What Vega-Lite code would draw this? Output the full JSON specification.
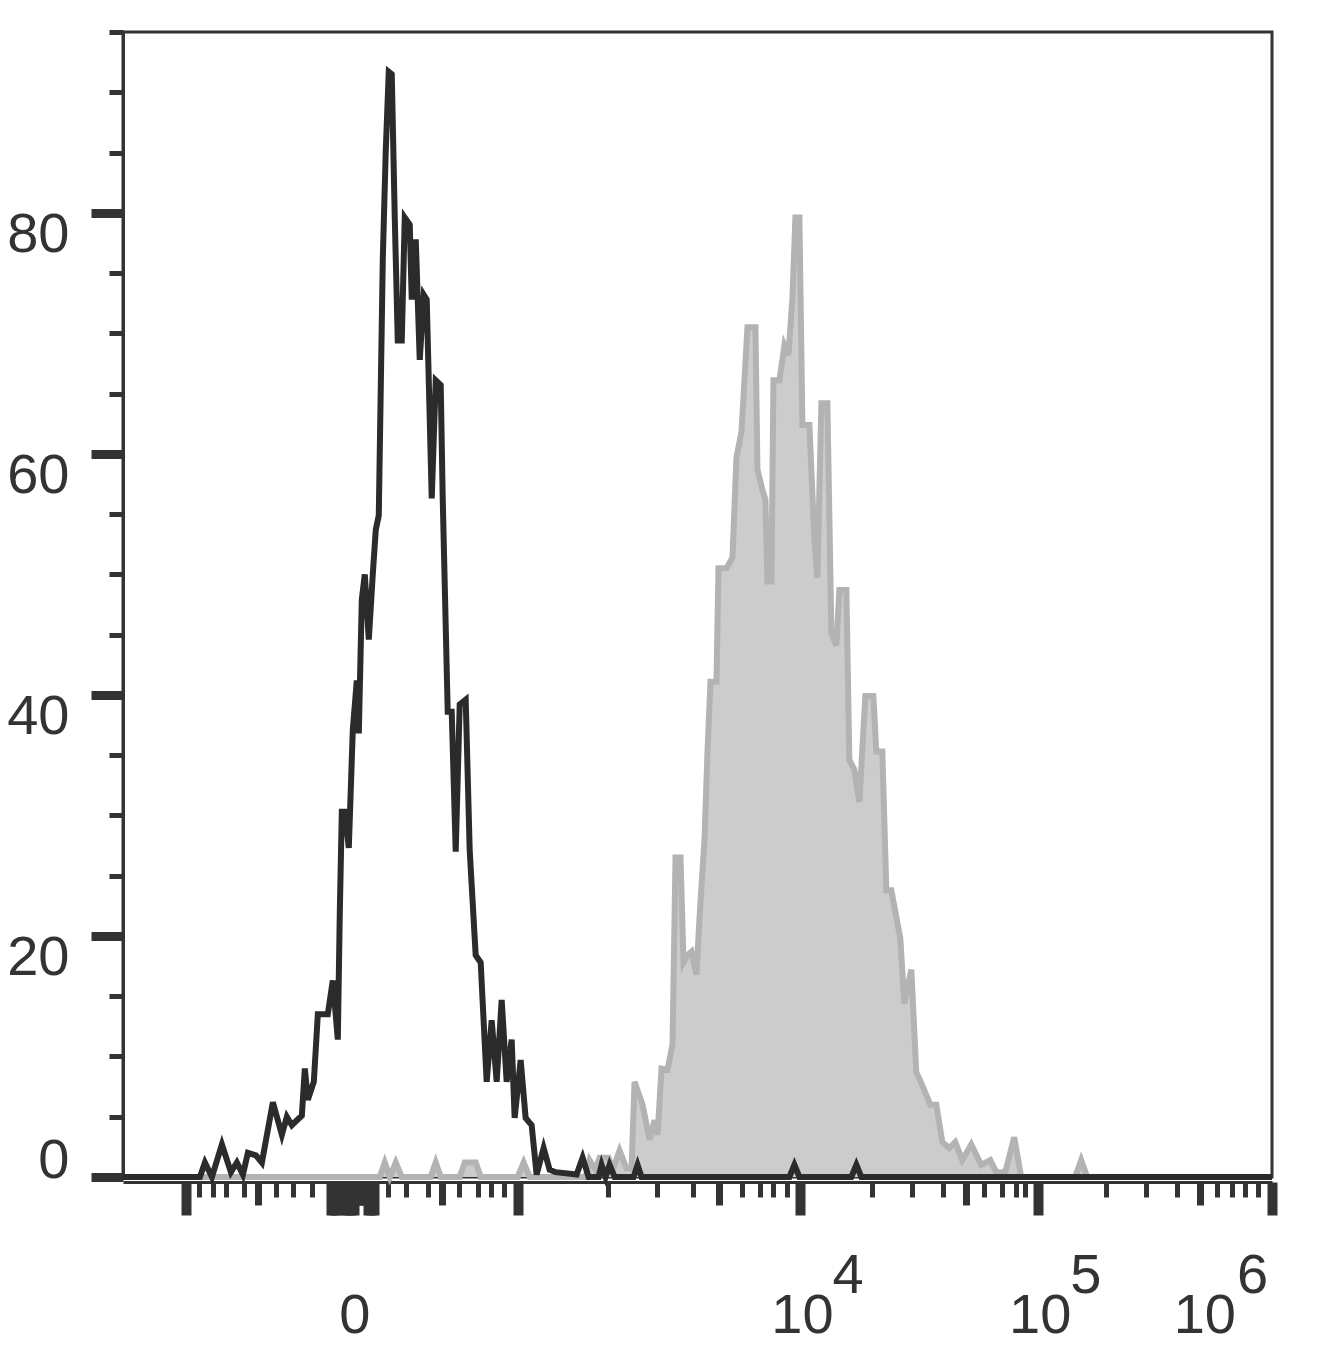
{
  "$schema": "https://vega.github.io/schema/vega-lite/v6.json",
  "width": 1149,
  "height": 1145,
  "autosize": {"type": "none"},
  "padding": {"left": 123, "top": 32, "right": 62, "bottom": 171},
  "background": "white",
  "config": {
    "view": {"stroke": "#333333", "strokeWidth": 3},
    "axis": {"grid": false, "labelFont": "Liberation Sans", "labelFontSize": 56, "labelColor": "#333333", "tickColor": "#333333", "domainColor": "#333333", "domainWidth": 3}
  },
  "datasets": {
    "black": [
      {"ch": 0, "count": 0}, {"ch": 77, "count": 0}, {"ch": 82, "count": 1.2}, {"ch": 89, "count": 0},
      {"ch": 99, "count": 2.7}, {"ch": 108, "count": 0.4}, {"ch": 114, "count": 1.2}, {"ch": 120, "count": 0.2},
      {"ch": 125, "count": 2.0}, {"ch": 133, "count": 1.8}, {"ch": 139, "count": 1.2}, {"ch": 150, "count": 6.2},
      {"ch": 159, "count": 3.5}, {"ch": 164, "count": 5.0}, {"ch": 169, "count": 4.3}, {"ch": 179, "count": 5.1},
      {"ch": 182, "count": 9.0}, {"ch": 185, "count": 6.4}, {"ch": 191, "count": 7.9}, {"ch": 195, "count": 13.5},
      {"ch": 205, "count": 13.5}, {"ch": 210, "count": 16.3}, {"ch": 215, "count": 11.4}, {"ch": 217, "count": 22},
      {"ch": 219, "count": 30.3}, {"ch": 222, "count": 30.3}, {"ch": 226, "count": 27.3}, {"ch": 230, "count": 37.1},
      {"ch": 234, "count": 41.2}, {"ch": 236, "count": 36.8}, {"ch": 239, "count": 47.9}, {"ch": 242, "count": 50},
      {"ch": 246, "count": 44.6}, {"ch": 250, "count": 50}, {"ch": 253, "count": 53.7}, {"ch": 256, "count": 54.9},
      {"ch": 260, "count": 76.1}, {"ch": 263, "count": 85.2}, {"ch": 266, "count": 91.7}, {"ch": 269, "count": 91.5},
      {"ch": 272, "count": 79.6}, {"ch": 275, "count": 69.4}, {"ch": 279, "count": 69.4}, {"ch": 282, "count": 79.6},
      {"ch": 287, "count": 79}, {"ch": 289, "count": 72.8}, {"ch": 293, "count": 77.8}, {"ch": 297, "count": 67.8},
      {"ch": 301, "count": 73.2}, {"ch": 304, "count": 72.8}, {"ch": 309, "count": 56.3}, {"ch": 313, "count": 66.1},
      {"ch": 318, "count": 65.7}, {"ch": 320, "count": 56.3}, {"ch": 325, "count": 38.6}, {"ch": 329, "count": 38.6},
      {"ch": 333, "count": 27}, {"ch": 337, "count": 39.2}, {"ch": 343, "count": 39.6}, {"ch": 347, "count": 27.1},
      {"ch": 353, "count": 18.4}, {"ch": 358, "count": 17.8}, {"ch": 364, "count": 7.9}, {"ch": 369, "count": 13},
      {"ch": 374, "count": 7.9}, {"ch": 379, "count": 14.7}, {"ch": 384, "count": 7.9}, {"ch": 389, "count": 11.4},
      {"ch": 392, "count": 4.9}, {"ch": 398, "count": 9.7}, {"ch": 403, "count": 4.9}, {"ch": 409, "count": 4.3},
      {"ch": 414, "count": 0.2}, {"ch": 421, "count": 2.4}, {"ch": 427, "count": 0.6}, {"ch": 433, "count": 0.4},
      {"ch": 454, "count": 0.2}, {"ch": 460, "count": 1.6}, {"ch": 466, "count": 0}, {"ch": 476, "count": 0},
      {"ch": 479, "count": 1}, {"ch": 483, "count": 0}, {"ch": 487, "count": 1}, {"ch": 492, "count": 0},
      {"ch": 511, "count": 0}, {"ch": 515, "count": 1}, {"ch": 519, "count": 0}, {"ch": 667, "count": 0},
      {"ch": 672, "count": 1}, {"ch": 677, "count": 0}, {"ch": 729, "count": 0}, {"ch": 734, "count": 1},
      {"ch": 739, "count": 0}, {"ch": 1150, "count": 0}
    ],
    "gray": [
      {"ch": 0, "count": 0}, {"ch": 257, "count": 0}, {"ch": 262, "count": 1.2}, {"ch": 267, "count": 0},
      {"ch": 273, "count": 1.2}, {"ch": 279, "count": 0}, {"ch": 308, "count": 0}, {"ch": 313, "count": 1.2},
      {"ch": 318, "count": 0}, {"ch": 337, "count": 0}, {"ch": 342, "count": 1.2}, {"ch": 353, "count": 1.2},
      {"ch": 358, "count": 0}, {"ch": 395, "count": 0}, {"ch": 401, "count": 1.2}, {"ch": 407, "count": 0},
      {"ch": 463, "count": 0}, {"ch": 467, "count": 1.4}, {"ch": 473, "count": 0.6}, {"ch": 477, "count": 1.6},
      {"ch": 486, "count": 1.6}, {"ch": 490, "count": 0.6}, {"ch": 497, "count": 2.2}, {"ch": 504, "count": 0.7},
      {"ch": 509, "count": 0.7}, {"ch": 512, "count": 7.9}, {"ch": 520, "count": 6}, {"ch": 527, "count": 3.1},
      {"ch": 532, "count": 4.7}, {"ch": 535, "count": 3.5}, {"ch": 539, "count": 9}, {"ch": 545, "count": 8.9},
      {"ch": 550, "count": 11}, {"ch": 553, "count": 26.5}, {"ch": 558, "count": 26.5}, {"ch": 561, "count": 17.8},
      {"ch": 565, "count": 18.4}, {"ch": 569, "count": 18.7}, {"ch": 574, "count": 16.8}, {"ch": 577, "count": 21.5},
      {"ch": 582, "count": 28}, {"ch": 585, "count": 35.3}, {"ch": 588, "count": 41.1}, {"ch": 594, "count": 41.1},
      {"ch": 596, "count": 50.5}, {"ch": 604, "count": 50.5}, {"ch": 610, "count": 51.4}, {"ch": 614, "count": 59.7},
      {"ch": 619, "count": 61.8}, {"ch": 625, "count": 70.5}, {"ch": 633, "count": 70.5}, {"ch": 635, "count": 58.7},
      {"ch": 640, "count": 57}, {"ch": 643, "count": 56.2}, {"ch": 645, "count": 49.4}, {"ch": 649, "count": 49.4},
      {"ch": 651, "count": 66.1}, {"ch": 657, "count": 66.1}, {"ch": 662, "count": 69}, {"ch": 666, "count": 68.2},
      {"ch": 670, "count": 72.9}, {"ch": 673, "count": 79.6}, {"ch": 677, "count": 79.6}, {"ch": 680, "count": 62.4},
      {"ch": 687, "count": 62.4}, {"ch": 692, "count": 52.9}, {"ch": 695, "count": 49.7}, {"ch": 699, "count": 64.2},
      {"ch": 705, "count": 64.2}, {"ch": 709, "count": 45.1}, {"ch": 714, "count": 44.1}, {"ch": 717, "count": 48.7},
      {"ch": 724, "count": 48.7}, {"ch": 727, "count": 34.6}, {"ch": 732, "count": 33.8}, {"ch": 737, "count": 31.1},
      {"ch": 743, "count": 39.9}, {"ch": 751, "count": 39.9}, {"ch": 754, "count": 35.3}, {"ch": 760, "count": 35.3},
      {"ch": 764, "count": 23.8}, {"ch": 769, "count": 23.8}, {"ch": 778, "count": 19.8}, {"ch": 782, "count": 14.4},
      {"ch": 789, "count": 17.2}, {"ch": 794, "count": 8.7}, {"ch": 800, "count": 7.6}, {"ch": 808, "count": 6},
      {"ch": 814, "count": 6}, {"ch": 820, "count": 2.9}, {"ch": 827, "count": 2.4}, {"ch": 833, "count": 2.9},
      {"ch": 840, "count": 1.4}, {"ch": 849, "count": 2.7}, {"ch": 859, "count": 1}, {"ch": 868, "count": 1.4},
      {"ch": 874, "count": 0.4}, {"ch": 883, "count": 0.4}, {"ch": 892, "count": 3.3}, {"ch": 899, "count": 0},
      {"ch": 953, "count": 0}, {"ch": 959, "count": 1.4}, {"ch": 965, "count": 0}, {"ch": 1150, "count": 0}
    ],
    "xlabels": [
      {"ch": 230, "base": "0", "exp": ""},
      {"ch": 678, "base": "10", "exp": "4"},
      {"ch": 916, "base": "10", "exp": "5"},
      {"ch": 1150, "base": "10", "exp": "6"}
    ]
  },
  "layer": [
    {
      "data": {"name": "gray"},
      "mark": {"type": "area", "color": "#cccccc"},
      "encoding": {
        "x": {
          "field": "ch", "type": "quantitative", "title": null,
          "scale": {"domain": [0, 1150], "nice": false, "zero": false},
          "axis": {
            "offset": 5,
            "tickCount": 500,
            "values": [63, 76, 90, 103, 121, 135, 153, 170, 189, 208, 211, 214, 217, 219, 222, 225, 228, 231, 236, 238, 240, 245, 248, 251, 265, 283, 305, 319, 336, 355, 368, 381, 395, 485, 534, 570, 597, 620, 638, 651, 665, 678, 750, 790, 821, 844, 862, 880, 894, 903, 916, 984, 1024, 1055, 1078, 1095, 1110, 1123, 1136, 1150],
            "tickSize": {"condition": [
              {"test": "indexof([63,208,211,214,222,225,228,231,245,248,251,395,678,916,1150], datum.value) >= 0", "value": 33},
              {"test": "indexof([135,217,219,236,238,240,319,597,844,1078], datum.value) >= 0", "value": 23}
            ], "value": 15},
            "tickWidth": {"condition": [
              {"test": "indexof([63,208,211,214,222,225,228,231,245,248,251,395,678,916,1150], datum.value) >= 0", "value": 10},
              {"test": "indexof([135,217,219,236,238,240,319,597,844,1078], datum.value) >= 0", "value": 7}
            ], "value": 5},
            "labels": false
          }
        },
        "y": {
          "field": "count", "type": "quantitative", "title": null,
          "scale": {"domain": [0, 95], "nice": false},
          "axis": {
            "tickCount": 500,
            "values": [0, 5, 10, 15, 20, 25, 30, 35, 40, 45, 50, 55, 60, 65, 70, 75, 80, 85, 90, 95],
            "tickSize": {"condition": {"test": "datum.value % 20 === 0", "value": 32}, "value": 14},
            "tickWidth": {"condition": {"test": "datum.value % 20 === 0", "value": 9}, "value": 5},
            "labelExpr": "datum.value % 20 === 0 ? format(datum.value, 'd') : ''",
            "labelBaseline": {"condition": {"test": "datum.value === 0", "value": "alphabetic"}, "value": "top"},
            "labelOffset": {"condition": {"test": "datum.value === 0", "value": 0}, "value": -5},
            "labelPadding": 22,
            "labelFlush": false,
            "labelOverlap": false
          }
        }
      }
    },
    {
      "data": {"name": "gray"},
      "mark": {"type": "line", "color": "#b3b3b3", "strokeWidth": 6},
      "encoding": {
        "x": {"field": "ch", "type": "quantitative", "title": null},
        "y": {"field": "count", "type": "quantitative", "title": null}
      }
    },
    {
      "data": {"name": "black"},
      "mark": {"type": "line", "color": "#2b2b2b", "strokeWidth": 6},
      "encoding": {
        "x": {"field": "ch", "type": "quantitative", "title": null},
        "y": {"field": "count", "type": "quantitative", "title": null}
      }
    },
    {
      "data": {"name": "xlabels"},
      "transform": [{"filter": "datum.ch < 1100"}],
      "mark": {"type": "text", "align": "center", "baseline": "alphabetic", "dx": 2, "font": "Liberation Sans", "fontSize": 56, "color": "#333333"},
      "encoding": {
        "x": {"field": "ch", "type": "quantitative", "title": null},
        "y": {"datum": -12.94, "type": "quantitative", "title": null},
        "text": {"field": "base"}
      }
    },
    {
      "data": {"name": "xlabels"},
      "transform": [{"filter": "datum.ch < 1100"}],
      "mark": {"type": "text", "align": "left", "baseline": "alphabetic", "dx": 32, "font": "Liberation Sans", "fontSize": 56, "color": "#333333"},
      "encoding": {
        "x": {"field": "ch", "type": "quantitative", "title": null},
        "y": {"datum": -9.62, "type": "quantitative", "title": null},
        "text": {"field": "exp"}
      }
    },
    {
      "data": {"name": "xlabels"},
      "transform": [{"filter": "datum.ch > 1100"}],
      "mark": {"type": "text", "align": "right", "baseline": "alphabetic", "dx": -36, "font": "Liberation Sans", "fontSize": 56, "color": "#333333"},
      "encoding": {
        "x": {"field": "ch", "type": "quantitative", "title": null},
        "y": {"datum": -12.94, "type": "quantitative", "title": null},
        "text": {"field": "base"}
      }
    },
    {
      "data": {"name": "xlabels"},
      "transform": [{"filter": "datum.ch > 1100"}],
      "mark": {"type": "text", "align": "left", "baseline": "alphabetic", "dx": -35, "font": "Liberation Sans", "fontSize": 56, "color": "#333333"},
      "encoding": {
        "x": {"field": "ch", "type": "quantitative", "title": null},
        "y": {"datum": -9.62, "type": "quantitative", "title": null},
        "text": {"field": "exp"}
      }
    }
  ]
}
